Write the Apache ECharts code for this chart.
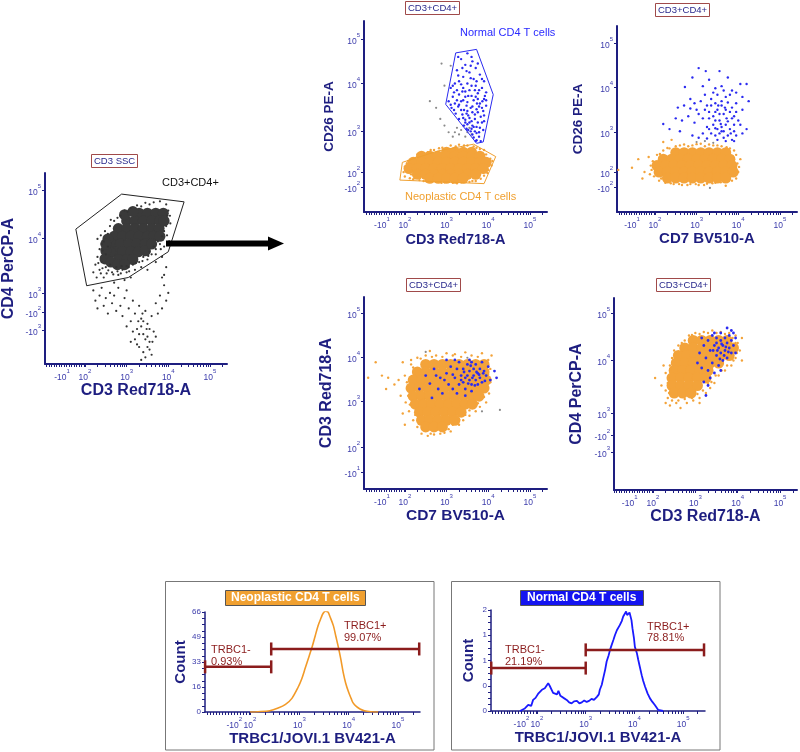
<!DOCTYPE html>
<html><head><meta charset="utf-8">
<script src="https://cdn.jsdelivr.net/npm/echarts@6.0.0/dist/echarts.min.js"></script>
<style>html,body{margin:0;padding:0;background:#fff;}#chart{width:800px;height:752px;}</style>
</head><body><div id="chart"></div>
<script>
// ===== DATA (display coordinates: x/y in biexponential "decade" units) =====
// Plot A: CD3 SSC  (CD3 Red718-A vs CD4 PerCP-A)
const aCore = [[3.3,4.55],[3.5,4.55],[3.7,4.55],[3.88,4.55],[3.0,4.4],[3.2,4.4],[3.4,4.4],[3.6,4.4],[3.8,4.4],[2.8,4.25],[3.0,4.25],[3.2,4.25],[3.4,4.25],[3.6,4.25],[3.78,4.25],[2.7,4.1],[2.9,4.1],[3.1,4.1],[3.3,4.1],[3.5,4.1],[3.65,4.1],[2.65,3.95],[2.85,3.95],[3.05,3.95],[3.25,3.95],[3.45,3.95],[2.7,3.8],[2.9,3.8],[3.1,3.8],[3.28,3.8],[2.8,3.65],[3.0,3.65],[2.55,4.05],[2.6,3.8],[3.15,3.65],[3.45,3.82],[3.6,3.95],[3.8,4.1],[3.9,4.4],[2.95,4.52],[3.15,4.58],[2.5,3.82],[2.48,3.66],[2.62,3.6],[2.78,3.55],[2.95,3.55],[2.5,3.95]];
const aDots = [[2.35,3.45],[2.4,3.6],[2.45,3.3],[2.5,3.75],[2.5,3.5],[2.55,3.9],[2.45,4.0],[2.55,4.15],[2.6,3.55],[2.6,4.3],[2.7,4.4],[2.65,3.4],[2.75,3.5],[2.8,3.35],[2.85,4.5],[2.9,3.45],[2.95,4.6],[3.0,3.4],[3.05,3.5],[3.1,4.65],[3.15,3.55],[3.2,3.45],[3.25,4.7],[3.3,3.6],[3.35,3.5],[3.4,3.7],[3.45,4.75],[3.5,3.65],[3.55,3.8],[3.6,3.75],[3.65,3.9],[3.7,3.85],[3.75,4.0],[3.8,3.95],[3.85,4.1],[3.9,4.2],[3.95,4.3],[3.98,4.5],[4.0,4.6],[3.95,4.72],[3.8,4.78],[3.65,4.76],[4.05,4.35],[2.3,3.7],[2.25,3.55],[2.4,3.95],[3.9,3.9],[3.85,3.7],[4.02,4.0],[2.2,3.4],[2.7,3.2],[3.1,3.3],[3.5,3.45],[3.7,3.6],[2.95,3.25],[2.42,3.82],[2.48,4.2],[2.62,4.42],[2.78,3.42],[2.88,3.52],[3.0,3.52],[3.22,3.58],[3.38,3.62],[3.52,3.72],[3.7,3.75],[3.82,3.85],[3.97,4.12],[4.04,4.5],[3.55,4.72],[3.35,4.68],[3.02,4.58],[2.78,4.46],[2.35,3.85],[2.28,3.3],[2.52,3.38],[2.32,3.58],[2.38,3.38],[2.42,3.48],[2.56,3.44],[2.68,3.36],[2.86,3.38],[3.06,3.42],[2.3,4.05],[2.38,4.12]];
const aLow = [[2.2,3.05],[2.25,2.85],[2.3,2.7],[2.35,2.95],[2.4,3.1],[2.45,2.75],[2.5,2.9],[2.55,2.6],[2.6,3.0],[2.65,2.8],[2.7,2.95],[2.75,2.65],[2.8,3.1],[2.85,2.75],[2.9,2.55],[2.95,2.9],[3.0,3.05],[3.05,2.7],[3.1,2.45],[3.15,2.85],[3.2,2.6],[3.25,2.3],[3.3,2.75],[3.35,2.5],[3.4,2.2],[3.45,2.65],[3.5,2.4],[3.55,2.05],[3.6,2.55],[3.65,2.25],[3.7,2.8],[3.75,2.6],[3.8,2.95],[3.85,2.7],[3.9,3.15],[3.95,2.85],[4.0,3.0],[3.2,2.1],[3.3,1.95],[3.35,2.35],[3.4,1.85],[3.45,2.1],[3.5,1.95],[3.55,2.3],[3.6,1.8],[3.25,2.0],[3.15,2.25],[3.4,2.45],[3.5,2.15],[3.45,1.75],[3.62,2.05],[3.3,2.2],[3.1,2.05],[3.0,2.35],[3.7,2.15],[3.55,1.9],[3.38,2.6],[3.28,2.45],[3.48,2.3],[3.35,1.7],[3.9,3.35],[3.95,3.5],[3.85,3.3]];
const aGate = [[1.78,4.24],[2.88,4.92],[4.38,4.77],[4.0,3.8],[3.04,3.3],[2.04,3.14]];

// Plot B: CD3 Red718-A vs CD26 PE-A
const bCore = [[3.0,2.45],[3.2,2.45],[3.4,2.45],[3.6,2.45],[2.4,2.36],[2.6,2.36],[2.8,2.36],[3.0,2.36],[3.2,2.36],[3.4,2.36],[3.6,2.36],[3.8,2.36],[2.2,2.22],[2.4,2.22],[2.6,2.22],[2.8,2.22],[3.0,2.22],[3.2,2.22],[3.4,2.22],[3.6,2.22],[3.8,2.22],[3.95,2.22],[2.1,2.08],[2.3,2.08],[2.5,2.08],[2.7,2.08],[2.9,2.08],[3.1,2.08],[3.3,2.08],[3.5,2.08],[3.7,2.08],[3.88,2.08],[2.3,1.95],[2.5,1.95],[2.7,1.95],[2.9,1.95],[3.1,1.95],[3.3,1.95],[3.5,1.95],[3.7,1.95],[2.6,1.86],[2.8,1.86],[3.0,1.86],[3.2,1.86],[3.4,1.86]];
const bDots = [[1.97,2.0],[2.0,2.12],[2.0,1.9],[2.08,2.25],[2.12,1.86],[2.25,2.32],[2.2,1.84],[2.4,2.42],[2.35,1.82],[2.5,1.8],[2.55,2.45],[2.7,2.5],[2.75,1.78],[2.9,2.55],[2.95,1.77],[3.1,2.6],[3.15,1.76],[3.3,2.62],[3.35,1.77],[3.5,2.6],[3.55,1.78],[3.65,2.58],[3.7,1.8],[3.8,2.52],[3.82,1.85],[3.95,2.4],[3.98,1.98],[4.05,2.3],[4.08,2.15],[4.0,2.05],[3.9,2.5],[2.3,2.4],[2.05,2.2],[2.15,1.95],[2.62,2.5],[2.82,2.54],[3.22,2.58],[3.42,2.6],[3.72,2.55],[3.9,1.92],[3.62,1.8],[2.45,1.8],[2.88,1.76],[3.25,1.75],[4.1,2.25]];
const bGrey = [[3.15,2.8],[3.2,2.9],[3.3,2.85],[3.35,2.95],[3.45,2.8],[3.5,2.9],[3.6,2.85],[3.25,3.0],[3.05,2.9],[2.95,3.05],[3.4,3.05],[2.85,3.2],[2.75,3.45],[2.6,3.6],[2.95,3.95],[3.1,4.4],[2.88,4.45],[3.55,3.0]];
const bBlue = [[3.35,4.55],[3.6,4.6],[3.45,4.42],[3.7,4.35],[3.25,4.3],[3.55,4.25],[3.4,4.15],[3.8,4.2],[3.3,4.05],[3.65,4.1],[3.5,4.0],[3.9,4.05],[3.2,4.0],[3.1,3.9],[3.25,3.85],[3.4,3.9],[3.55,3.85],[3.7,3.95],[3.85,3.9],[3.95,3.8],[3.15,3.7],[3.3,3.75],[3.45,3.7],[3.6,3.72],[3.75,3.78],[3.9,3.65],[3.05,3.6],[3.2,3.55],[3.35,3.6],[3.5,3.58],[3.65,3.62],[3.8,3.55],[3.95,3.5],[3.12,3.45],[3.28,3.48],[3.42,3.4],[3.58,3.45],[3.72,3.42],[3.88,3.38],[3.22,3.32],[3.38,3.3],[3.52,3.28],[3.68,3.3],[3.82,3.25],[3.3,3.2],[3.45,3.18],[3.6,3.15],[3.75,3.12],[3.9,3.15],[3.42,3.05],[3.5,3.08],[3.65,3.02],[3.8,3.0],[3.52,2.95],[3.58,2.92],[3.72,2.88],[3.62,2.85],[3.65,2.78],[3.78,2.8],[3.72,2.72],[3.7,2.7],[3.48,3.5],[3.62,3.35],[3.55,3.22],[3.4,3.62],[3.73,3.55],[3.85,3.45],[3.25,3.62],[3.6,3.95],[3.45,3.82],[3.68,3.85],[3.35,3.4],[3.5,3.38],[3.75,3.65],[3.62,3.05],[3.48,2.98],[3.28,4.6],[3.5,4.68],[3.62,4.5],[3.38,4.35],[3.58,4.4],[3.75,4.45],[3.28,4.18],[3.48,4.28],[3.72,4.05],[3.85,4.1],[3.15,3.95],[3.35,3.98],[3.58,4.12],[3.78,3.85],[3.92,3.72],[3.18,3.8],[3.38,3.82],[3.52,3.72],[3.7,3.7],[3.86,3.6],[3.1,3.52],[3.3,3.52],[3.62,3.48],[3.78,3.48],[3.95,3.62],[3.18,3.4],[3.48,3.32],[3.75,3.35],[3.9,3.28],[3.4,3.22],[3.68,3.2],[3.85,3.12],[3.55,3.12],[3.72,3.02],[3.88,2.95],[3.6,2.98],[3.78,2.9],[3.68,2.92],[3.82,2.7],[3.45,3.12]];
const bBlueGate = [[3.22,4.69],[3.72,4.77],[4.12,3.75],[3.88,2.68],[3.72,2.65],[2.98,3.53]];
const bOrangeGate = [[1.94,2.22],[2.80,2.48],[3.65,2.63],[4.18,2.35],[3.90,1.74],[1.88,1.82]];

// Plot C: CD7 BV510-A vs CD26 PE-A
const cCore = [[2.5,2.45],[2.7,2.45],[2.9,2.45],[3.1,2.45],[3.3,2.45],[3.5,2.45],[3.7,2.45],[2.2,2.3],[2.4,2.3],[2.6,2.3],[2.8,2.3],[3.0,2.3],[3.2,2.3],[3.4,2.3],[3.6,2.3],[3.8,2.3],[2.05,2.15],[2.25,2.15],[2.45,2.15],[2.65,2.15],[2.85,2.15],[3.05,2.15],[3.25,2.15],[3.45,2.15],[3.65,2.15],[3.85,2.15],[2.1,2.0],[2.3,2.0],[2.5,2.0],[2.7,2.0],[2.9,2.0],[3.1,2.0],[3.3,2.0],[3.5,2.0],[3.7,2.0],[3.88,2.0],[2.3,1.86],[2.5,1.86],[2.7,1.86],[2.9,1.86],[3.1,1.86],[3.3,1.86],[3.5,1.86],[3.7,1.86]];
const cDots = [[1.92,2.05],[1.95,2.25],[1.98,1.9],[2.05,2.4],[2.1,1.8],[2.2,2.5],[2.25,1.75],[2.35,2.55],[2.45,1.72],[2.6,2.62],[2.65,1.7],[2.8,2.6],[2.85,1.72],[3.0,2.65],[3.05,1.7],[3.2,2.6],[3.25,1.73],[3.4,2.62],[3.45,1.75],[3.6,2.6],[3.65,1.78],[3.8,2.55],[3.85,1.8],[3.95,2.4],[3.98,2.2],[4.0,2.0],[3.95,1.85],[4.05,2.3],[1.75,2.0],[1.6,2.3],[1.45,2.1],[1.12,2.05],[1.7,1.85],[1.85,2.35],[2.2,2.7],[2.4,2.75],[3.7,1.68],[2.12,2.42],[2.3,2.56],[2.5,2.6],[2.7,2.64],[2.9,2.62],[3.1,2.66],[3.3,2.64],[3.5,2.62],[3.72,2.58],[3.9,2.5],[4.02,2.12],[2.15,1.85],[2.38,1.74],[2.58,1.72],[2.78,1.7],[2.98,1.72],[3.18,1.7],[3.38,1.74],[3.58,1.76],[3.78,1.8],[1.88,1.95],[1.9,2.15]];
const cGrey = [[3.32,1.63],[3.0,2.7],[3.2,2.72],[3.4,2.68]];
const cBlue = [[3.05,4.42],[3.22,4.35],[3.15,4.0],[2.72,3.98],[3.6,4.0],[3.55,4.35],[4.05,4.05],[4.2,4.05],[3.85,3.9],[3.7,3.75],[2.55,3.5],[2.7,3.55],[2.85,3.48],[2.95,3.6],[3.1,3.65],[3.25,3.55],[3.35,3.7],[3.45,3.6],[3.5,3.8],[3.6,3.55],[3.75,3.62],[3.85,3.5],[3.95,3.6],[4.1,3.45],[4.25,3.65],[2.2,3.12],[2.35,3.0],[2.65,3.2],[2.8,3.3],[2.95,3.15],[3.05,3.35],[3.15,3.25],[3.3,3.4],[3.4,3.3],[3.5,3.45],[3.55,3.2],[3.65,3.35],[3.72,3.25],[3.8,3.4],[3.9,3.3],[4.0,3.2],[3.25,3.05],[3.4,3.1],[3.5,3.0],[3.6,3.05],[3.7,3.1],[3.8,3.0],[3.9,2.95],[3.35,2.9],[3.45,2.85],[3.55,2.9],[3.65,2.8],[3.75,2.85],[3.85,2.75],[3.95,2.85],[3.05,2.8],[3.15,2.9],[2.9,2.85],[4.2,3.0],[3.6,3.65],[3.45,3.4],[3.7,3.45],[3.6,2.95],[3.52,3.55],[2.9,4.2],[3.3,4.15],[3.45,3.95],[3.75,4.2],[3.95,3.85],[4.1,3.75],[3.2,3.8],[3.4,3.85],[3.65,3.9],[3.8,3.8],[2.85,3.7],[3.0,3.45],[3.2,3.45],[3.35,3.55],[3.55,3.35],[3.68,3.5],[3.85,3.25],[3.95,3.4],[4.05,3.1],[3.3,3.25],[3.45,3.2],[3.58,3.12],[3.75,3.18],[3.9,3.1],[3.3,3.0],[3.45,3.02],[3.65,2.95],[3.82,2.9],[3.7,2.72],[3.5,2.75],[3.25,2.78],[3.9,2.72],[4.1,2.9],[2.5,3.25],[2.6,2.95]];

// Plot D: CD7 BV510-A vs CD3 Red718-A
const dCore = [[2.5,3.85],[2.7,3.85],[2.9,3.85],[3.1,3.85],[3.3,3.85],[3.5,3.85],[3.7,3.85],[3.9,3.85],[2.3,3.68],[2.5,3.68],[2.7,3.68],[2.9,3.68],[3.1,3.68],[3.3,3.68],[3.5,3.68],[3.7,3.68],[3.9,3.68],[2.2,3.5],[2.4,3.5],[2.6,3.5],[2.8,3.5],[3.0,3.5],[3.2,3.5],[3.4,3.5],[3.6,3.5],[3.8,3.5],[3.95,3.5],[2.15,3.32],[2.35,3.32],[2.55,3.32],[2.75,3.32],[2.95,3.32],[3.15,3.32],[3.35,3.32],[3.55,3.32],[3.75,3.32],[3.9,3.32],[2.2,3.14],[2.4,3.14],[2.6,3.14],[2.8,3.14],[3.0,3.14],[3.2,3.14],[3.4,3.14],[3.6,3.14],[3.78,3.14],[2.25,2.96],[2.45,2.96],[2.65,2.96],[2.85,2.96],[3.05,2.96],[3.25,2.96],[3.45,2.96],[3.62,2.96],[2.35,2.78],[2.55,2.78],[2.75,2.78],[2.95,2.78],[3.15,2.78],[3.35,2.78],[2.4,2.6],[2.6,2.6],[2.8,2.6],[3.0,2.6],[3.2,2.6],[2.5,2.45],[2.7,2.45],[2.9,2.45]];
const dDots = [[2.0,3.6],[2.05,3.3],[2.02,3.0],[2.1,2.8],[2.15,3.85],[2.2,2.6],[2.3,4.0],[2.3,2.45],[2.4,2.3],[2.5,4.05],[2.55,2.25],[2.7,2.28],[2.75,4.05],[2.85,2.3],[3.0,4.1],[3.05,2.4],[3.2,4.08],[3.3,2.5],[3.4,2.6],[3.45,4.12],[3.55,2.7],[3.6,4.05],[3.7,2.8],[3.8,2.9],[3.85,4.1],[3.95,3.0],[4.02,3.2],[4.05,3.45],[4.05,3.75],[4.0,3.95],[4.08,4.05],[1.85,3.5],[1.75,3.4],[1.6,3.55],[1.45,3.6],[1.12,3.55],[1.3,3.9],[1.55,3.3],[1.9,3.15],[1.95,2.75],[2.0,2.5],[2.15,3.95],[1.95,3.9],[2.6,4.15],[3.1,2.35],[2.05,3.45],[2.08,3.15],[2.12,2.95],[2.2,3.78],[2.38,3.98],[2.65,4.02],[2.9,4.02],[3.15,4.05],[3.35,4.02],[3.75,4.02],[3.98,3.85],[4.0,3.62],[3.98,3.35],[3.9,3.12],[3.75,2.98],[3.55,2.82],[3.45,2.72],[3.3,2.62],[3.15,2.5],[2.95,2.32],[2.62,2.3],[2.42,2.42],[2.25,2.72]];
const dGrey = [[2.5,4.13],[3.85,2.8],[4.28,2.83],[3.5,4.0]];
const dBlue = [[2.35,3.3],[2.5,3.6],[2.6,3.42],[2.7,3.75],[2.8,3.3],[2.85,3.55],[2.9,3.2],[3.0,3.65],[3.05,3.4],[3.1,3.8],[3.15,3.3],[3.2,3.55],[3.25,3.75],[3.3,3.4],[3.3,3.9],[3.35,3.6],[3.4,3.45],[3.4,3.75],[3.45,3.3],[3.5,3.6],[3.5,3.85],[3.55,3.5],[3.55,3.7],[3.6,3.4],[3.6,3.9],[3.65,3.6],[3.65,3.75],[3.7,3.5],[3.7,3.85],[3.75,3.65],[3.75,3.4],[3.8,3.75],[3.8,3.55],[3.85,3.9],[3.85,3.45],[3.9,3.7],[3.95,3.6],[4.0,3.8],[4.05,3.5],[4.15,3.7],[4.2,3.55],[3.25,3.2],[3.45,3.15],[3.6,3.25],[3.0,3.95],[3.2,3.95],[3.55,3.95],[3.45,3.55],[3.62,3.55],[3.72,3.68],[3.52,3.42],[3.68,3.38],[3.42,3.68],[3.58,3.82],[3.78,3.62],[3.35,3.5],[2.95,3.5],[3.15,3.62],[3.88,3.65],[3.92,3.48],[2.65,3.1],[2.75,3.6]];

// Plot E: CD3 Red718-A vs CD4 PerCP-A
const eCore = [[2.95,4.45],[3.15,4.45],[3.35,4.45],[3.55,4.45],[3.75,4.45],[2.75,4.3],[2.95,4.3],[3.15,4.3],[3.35,4.3],[3.55,4.3],[3.75,4.3],[3.9,4.3],[2.6,4.15],[2.8,4.15],[3.0,4.15],[3.2,4.15],[3.4,4.15],[3.6,4.15],[3.8,4.15],[2.55,4.0],[2.75,4.0],[2.95,4.0],[3.15,4.0],[3.35,4.0],[3.55,4.0],[2.5,3.85],[2.7,3.85],[2.9,3.85],[3.1,3.85],[3.3,3.85],[2.45,3.7],[2.65,3.7],[2.85,3.7],[3.05,3.7],[3.25,3.7],[2.45,3.55],[2.65,3.55],[2.85,3.55],[3.05,3.55],[2.5,3.4],[2.7,3.4],[2.9,3.4]];
const eDots = [[2.3,3.2],[2.35,3.3],[2.4,3.15],[2.45,3.25],[2.55,3.2],[2.3,3.45],[2.35,3.6],[2.3,3.8],[2.4,3.95],[2.45,4.1],[2.5,4.25],[2.6,4.35],[2.75,4.45],[2.85,4.55],[3.0,4.6],[3.2,4.62],[3.4,4.65],[3.6,4.62],[3.8,4.6],[3.95,4.55],[4.0,4.4],[4.05,4.25],[3.95,4.1],[3.85,3.95],[3.7,3.85],[3.55,3.75],[3.45,3.6],[3.35,3.5],[3.25,3.4],[3.1,3.3],[2.95,3.25],[2.8,3.2],[2.65,3.1],[2.2,3.55],[2.25,3.95],[4.1,4.5],[3.1,3.2],[2.05,3.7],[4.1,4.05],[2.38,3.72],[2.42,3.88],[2.52,4.18],[2.68,4.4],[2.92,4.56],[3.1,4.58],[3.3,4.6],[3.5,4.6],[3.7,4.58],[3.88,4.5],[3.95,4.4],[3.98,4.2],[3.9,4.05],[3.75,3.95],[3.62,3.85],[3.48,3.75],[3.38,3.62],[3.3,3.58],[3.18,3.45],[3.05,3.38],[2.92,3.3],[2.75,3.28],[2.6,3.25],[2.38,3.4]];
const eBlue = [[3.05,4.0],[3.1,4.2],[3.15,3.9],[3.2,4.35],[3.25,4.1],[3.3,4.45],[3.3,3.85],[3.35,4.25],[3.4,4.55],[3.4,4.0],[3.45,4.35],[3.5,4.15],[3.5,4.5],[3.55,4.3],[3.55,3.95],[3.6,4.45],[3.6,4.2],[3.65,4.05],[3.65,4.35],[3.7,4.5],[3.7,4.25],[3.75,4.1],[3.75,4.4],[3.8,4.3],[3.8,4.55],[3.85,4.2],[3.85,4.45],[3.9,4.35],[3.95,4.5],[3.95,4.2],[3.85,4.65],[3.75,4.7],[3.45,4.6],[3.6,4.6],[3.5,4.4],[3.62,4.38],[3.68,4.15],[3.42,4.25],[3.58,4.08],[3.72,4.32],[3.35,3.7],[3.3,3.55],[3.25,3.35],[3.2,3.62],[3.45,3.8],[3.6,3.85],[3.15,4.5],[3.52,4.25],[3.78,4.22],[3.9,4.6]];

// Histograms: [display x, count]
const histNeo = [[2.0,0],[2.16,0.2],[2.4,0.8],[2.57,2.6],[2.72,5],[2.85,9],[2.97,16],[3.05,22],[3.12,29],[3.2,37],[3.26,43],[3.32,50],[3.38,57],[3.44,62],[3.48,65],[3.53,66.5],[3.58,66],[3.62,63],[3.69,57],[3.74,50],[3.79,43],[3.84,35],[3.89,26],[3.94,19],[4.0,13],[4.05,9],[4.09,6],[4.16,3.5],[4.23,2],[4.32,0.8],[4.45,0.2],[4.6,0]];
const histNormal = [[1.65,0],[1.75,0.05],[1.82,0.12],[1.88,0.1],[1.92,0.22],[1.97,0.26],[2.03,0.35],[2.07,0.32],[2.1,0.42],[2.13,0.4],[2.16,0.45],[2.2,0.43],[2.23,0.55],[2.26,0.5],[2.29,0.48],[2.33,0.36],[2.37,0.38],[2.41,0.33],[2.44,0.4],[2.48,0.3],[2.51,0.33],[2.56,0.25],[2.61,0.22],[2.66,0.17],[2.71,0.15],[2.76,0.19],[2.82,0.2],[2.87,0.15],[2.92,0.17],[2.97,0.21],[3.02,0.18],[3.07,0.2],[3.12,0.24],[3.17,0.22],[3.23,0.28],[3.27,0.33],[3.29,0.42],[3.33,0.52],[3.36,0.65],[3.4,0.82],[3.43,0.98],[3.47,1.1],[3.5,1.21],[3.53,1.3],[3.57,1.41],[3.6,1.5],[3.64,1.6],[3.67,1.58],[3.7,1.7],[3.74,1.78],[3.77,1.87],[3.8,1.84],[3.83,1.97],[3.85,1.9],[3.87,1.87],[3.9,1.95],[3.92,1.93],[3.94,1.8],[3.96,1.64],[3.99,1.45],[4.01,1.27],[4.05,1.15],[4.08,1.01],[4.11,0.88],[4.15,0.71],[4.18,0.6],[4.22,0.48],[4.27,0.35],[4.32,0.25],[4.37,0.18],[4.42,0.12],[4.49,0.02],[4.59,0]];
// gates: [start, end, level]
const neoGateNeg = [1.09, 2.43, 29.8];
const neoGatePos = [2.43, 5.43, 41.6];
const normGateNeg = [1.06, 3.0, 0.85];
const normGatePos = [3.0, 5.43, 1.21];

// Axis tick labels: [position, base, exponent]
const scatterXTicks = [[1.45,'-10','1'],[2,'10','2'],[3,'10','3'],[4,'10','4'],[5,'10','5']];
const histXTicks = [[1.68,'-10','2'],[2,'10','2'],[3,'10','3'],[4,'10','4'],[5,'10','5']];
const aYTicks = [[5,'10','5'],[4.07,'10','4'],[3,'10','3'],[2.63,'-10','2'],[2.28,'-10','3']];
const bYTicks = [[5,'10','5'],[4.01,'10','4'],[2.93,'10','3'],[2,'10','2'],[1.66,'-10','2']];
const cYTicks = [[5,'10','5'],[3.98,'10','4'],[2.93,'10','3'],[2,'10','2'],[1.65,'-10','2']];
const dYTicks = [[5,'10','5'],[4.01,'10','4'],[3.03,'10','3'],[2,'10','2'],[1.44,'-10','1']];
const eYTicks = [[5,'10','5'],[4.06,'10','4'],[3,'10','3'],[2.56,'-10','2'],[2.22,'-10','3']];
const neoCountTicks = [0,16.5,33,49.5,66];
const normCountTicks = [0,0.5,1,1.5,2];

// ===== STYLE / LAYOUT =====
const FONT = 'Liberation Sans, Arial, Helvetica, sans-serif';
const NAVY = '#1e1e80';
const TICKC = '#3b3bab';
const ORANGE = '#f3a33a';
const BLUE = '#2b2bf0';
const DARKRED = '#8b1c1c';

function logMinor(lo, hi) {
  const out = [];
  for (let d = 1; d <= 5; d++) for (let m = 1; m <= 9; m++) {
    const v = d + Math.log10(m);
    if (v >= lo && v <= hi) out.push(+v.toFixed(4));
  }
  return out;
}
function linMinor(lo, hi, step) { const o = []; for (let v = lo; v <= hi + 1e-9; v += step) o.push(+v.toFixed(4)); return o; }

const rich = {
  b: {fontSize: 8.5, color: TICKC, fontFamily: FONT, verticalAlign: 'bottom', lineHeight: 14},
  s: {fontSize: 6, color: TICKC, fontFamily: FONT, verticalAlign: 'top'}
};
function fmt(ticks) {
  return function (v) {
    for (const t of ticks) if (Math.abs(t[0] - v) < 1e-6) return '{b|' + t[1] + '}{s|' + t[2] + '}';
    return '';
  };
}

const grids = [
  {left: 45, top: 173, width: 182, height: 191},
  {left: 364, top: 21, width: 183, height: 191},
  {left: 617, top: 26, width: 180, height: 186},
  {left: 364, top: 297, width: 183, height: 192},
  {left: 614, top: 298, width: 183, height: 192},
  {left: 205, top: 612, width: 215, height: 100},
  {left: 491, top: 610, width: 214, height: 101}
];

function xLogAxis(i, min, max, ticks, name, gap, fs) {
  const minor = linMinor(1.08, 1.98, 0.06).concat(logMinor(2, max)).filter(v => v >= min);
  return {
    type: 'value', gridIndex: i, min: min, max: max,
    axisLine: {show: true, onZero: false, lineStyle: {color: NAVY, width: 2}},
    axisTick: {show: true, customValues: minor, length: 3, lineStyle: {color: NAVY, width: 1}},
    axisLabel: {customValues: ticks.map(t => t[0]), formatter: fmt(ticks), rich: rich, margin: 4},
    splitLine: {show: false},
    name: name, nameLocation: 'middle', nameGap: gap,
    nameTextStyle: {fontSize: fs, fontWeight: 'bold', color: NAVY, fontFamily: FONT}
  };
}
function yLogAxis(i, min, max, ticks, name, gap, fs) {
  return {
    type: 'value', gridIndex: i, min: min, max: max,
    axisLine: {show: true, onZero: false, lineStyle: {color: NAVY, width: 2}},
    axisTick: {show: true, customValues: ticks.map(t => t[0]), length: 3, lineStyle: {color: NAVY, width: 1}},
    axisLabel: {customValues: ticks.map(t => t[0]), formatter: fmt(ticks), rich: rich, margin: 4},
    splitLine: {show: false},
    name: name, nameLocation: 'middle', nameGap: gap,
    nameTextStyle: {fontSize: fs, fontWeight: 'bold', color: NAVY, fontFamily: FONT}
  };
}
function yCountAxis(i, max, ticks, gap) {
  const step = ticks[1] / 4;
  return {
    type: 'value', gridIndex: i, min: 0, max: max,
    axisLine: {show: true, onZero: false, lineStyle: {color: NAVY, width: 1.5}},
    axisTick: {show: true, customValues: linMinor(0, max, step), length: 3, lineStyle: {color: NAVY, width: 1}},
    axisLabel: {customValues: ticks, formatter: v => String(Math.floor(v + 1e-9)), fontSize: 8, color: TICKC, fontFamily: FONT, margin: 4},
    splitLine: {show: false},
    name: 'Count', nameLocation: 'middle', nameGap: gap,
    nameTextStyle: {fontSize: 15, fontWeight: 'bold', color: NAVY, fontFamily: FONT}
  };
}

const xAxes = [
  xLogAxis(0, 1.04, 5.41, scatterXTicks, 'CD3 Red718-A', 16, 16),
  xLogAxis(1, 1.02, 5.41, scatterXTicks, 'CD3 Red718-A', 20, 14.5),
  xLogAxis(2, 1.09, 5.41, scatterXTicks, 'CD7 BV510-A', 19, 15),
  xLogAxis(3, 1.02, 5.41, scatterXTicks, 'CD7 BV510-A', 18, 15.5),
  xLogAxis(4, 1.08, 5.40, scatterXTicks, 'CD3 Red718-A', 18, 16),
  xLogAxis(5, 1.088, 5.446, histXTicks, 'TRBC1/JOVI.1 BV421-A', 15, 15),
  xLogAxis(6, 1.055, 5.45, histXTicks, 'TRBC1/JOVI.1 BV421-A', 15, 15)
];
xAxes[5].axisLine.lineStyle.width = 1.5;
xAxes[6].axisLine.lineStyle.width = 1.5;
const yAxes = [
  yLogAxis(0, 1.62, 5.33, aYTicks, 'CD4 PerCP-A', 28, 16),
  yLogAxis(1, 1.10, 5.41, bYTicks, 'CD26 PE-A', 28, 13.5),
  yLogAxis(2, 1.07, 5.40, cYTicks, 'CD26 PE-A', 32, 13.5),
  yLogAxis(3, 1.06, 5.36, dYTicks, 'CD3 Red718-A', 29, 16),
  yLogAxis(4, 1.46, 5.30, eYTicks, 'CD4 PerCP-A', 29, 16),
  yCountAxis(5, 66, neoCountTicks, 15),
  yCountAxis(6, 2, normCountTicks, 15)
];

function sc(i, data, color, size, z) {
  return {type: 'scatter', xAxisIndex: i, yAxisIndex: i, data: data, symbol: 'circle', symbolSize: size,
    itemStyle: {color: color, opacity: 1, borderWidth: 0, shadowBlur: 0}, silent: true, z: z, animation: false};
}
function poly(i, data, color) {
  return {type: 'line', xAxisIndex: i, yAxisIndex: i, data: data.concat([data[0]]), symbol: 'none',
    lineStyle: {color: color, width: 1}, silent: true, z: 6, animation: false};
}
function gate(i, g, capH) {
  return [
    {type: 'line', xAxisIndex: i, yAxisIndex: i, data: [[g[0], g[2]], [g[1], g[2]]], symbol: 'none',
      lineStyle: {color: DARKRED, width: 2.5}, silent: true, z: 5, animation: false},
    {type: 'scatter', xAxisIndex: i, yAxisIndex: i, data: [[g[0], g[2]], [g[1], g[2]]], symbol: 'rect',
      symbolSize: [2.5, capH], itemStyle: {color: DARKRED, opacity: 1, borderWidth: 0}, silent: true, z: 5, animation: false}
  ];
}

const series = [
  sc(0, aCore, '#3a3a3a', 11, 2), sc(0, aDots, '#333', 2.2, 3), sc(0, aLow, '#333', 2.2, 3), poly(0, aGate, '#222'),
  sc(1, bCore, ORANGE, 11, 2), sc(1, bDots, ORANGE, 2.4, 3), sc(1, bGrey, '#8a8a8a', 2.2, 3), sc(1, bBlue, BLUE, 2.4, 4),
  poly(1, bBlueGate, '#2a2af0'), poly(1, bOrangeGate, '#f0a030'),
  sc(2, cCore, ORANGE, 11, 2), sc(2, cDots, ORANGE, 2.4, 3), sc(2, cGrey, '#8a8a8a', 2.2, 3), sc(2, cBlue, BLUE, 2.4, 4),
  sc(3, dCore, ORANGE, 11, 2), sc(3, dDots, ORANGE, 2.4, 3), sc(3, dGrey, '#8a8a8a', 2.2, 3), sc(3, dBlue, BLUE, 2.8, 4),
  sc(4, eCore, ORANGE, 11, 2), sc(4, eDots, ORANGE, 2.4, 3), sc(4, eBlue, BLUE, 2.8, 4),
  {type: 'line', xAxisIndex: 5, yAxisIndex: 5, data: histNeo, symbol: 'none', smooth: 0.3,
    lineStyle: {color: '#f29a28', width: 1.6}, silent: true, z: 4, animation: false},
  {type: 'line', xAxisIndex: 6, yAxisIndex: 6, data: histNormal, symbol: 'none',
    lineStyle: {color: '#1a1aff', width: 1.8}, silent: true, z: 4, animation: false}
].concat(gate(5, neoGateNeg, 13), gate(5, neoGatePos, 13), gate(6, normGateNeg, 13), gate(6, normGatePos, 13));

const boxStyle = {fontSize: 9.5, color: '#28288c', fontWeight: 'normal', fontFamily: FONT};
const titles = [
  {text: 'CD3 SSC', left: 91, top: 154},
  {text: 'CD3+CD4+', left: 405, top: 1},
  {text: 'CD3+CD4+', left: 655, top: 3},
  {text: 'CD3+CD4+', left: 406, top: 278},
  {text: 'CD3+CD4+', left: 656, top: 278}
].map(t => Object.assign(t, {textStyle: boxStyle, borderColor: '#a04a4a', borderWidth: 1, padding: [2, 3], backgroundColor: '#fff'}));
titles.push({text: 'Neoplastic CD4 T cells', left: 225, top: 590, backgroundColor: '#f0a030', borderColor: '#555', borderWidth: 1,
  padding: [2, 6], textStyle: {color: '#fff', fontWeight: 'bold', fontSize: 12, fontFamily: FONT}});
titles.push({text: 'Normal CD4 T cells', left: 520, top: 590, backgroundColor: '#1414f0', borderColor: '#555', borderWidth: 1,
  padding: [2, 7], textStyle: {color: '#fff', fontWeight: 'bold', fontSize: 12, fontFamily: FONT}});

function txt(x, y, s, color, size) {
  return {type: 'text', x: x, y: y, z: 50, style: {text: s, fill: color, font: size + 'px ' + FONT,
    textAlign: 'left', textVerticalAlign: 'middle', align: 'left', verticalAlign: 'middle'}};
}
const graphics = [
  {type: 'rect', z: 0, shape: {x: 165.5, y: 581.5, width: 268.5, height: 168.5}, style: {fill: 'none', stroke: '#777', lineWidth: 1}},
  {type: 'rect', z: 0, shape: {x: 451.5, y: 581.5, width: 268.5, height: 168.5}, style: {fill: 'none', stroke: '#777', lineWidth: 1}},
  {type: 'rect', z: 50, shape: {x: 166, y: 240.5, width: 104, height: 6}, style: {fill: '#000'}},
  {type: 'polygon', z: 50, shape: {points: [[268, 236.5], [284, 243.5], [268, 250.5]]}, style: {fill: '#000'}},
  txt(162, 183, 'CD3+CD4+', '#111', 11),
  txt(460, 33, 'Normal CD4 T cells', '#2a2aff', 11),
  txt(405, 197, 'Neoplastic CD4 T cells', '#f0a030', 11),
  txt(211, 650, 'TRBC1-', DARKRED, 11), txt(211, 662, '0.93%', DARKRED, 11),
  txt(344, 626, 'TRBC1+', DARKRED, 11), txt(344, 638, '99.07%', DARKRED, 11),
  txt(505, 650, 'TRBC1-', DARKRED, 11), txt(505, 662, '21.19%', DARKRED, 11),
  txt(647, 627, 'TRBC1+', DARKRED, 11), txt(647, 638, '78.81%', DARKRED, 11)
];

const chart = echarts.init(document.getElementById('chart'), null, {renderer: 'canvas'});
chart.setOption({
  animation: false,
  backgroundColor: '#fff',
  textStyle: {fontFamily: FONT},
  title: titles,
  grid: grids,
  xAxis: xAxes,
  yAxis: yAxes,
  series: series,
  graphic: graphics
});
</script></body></html>
